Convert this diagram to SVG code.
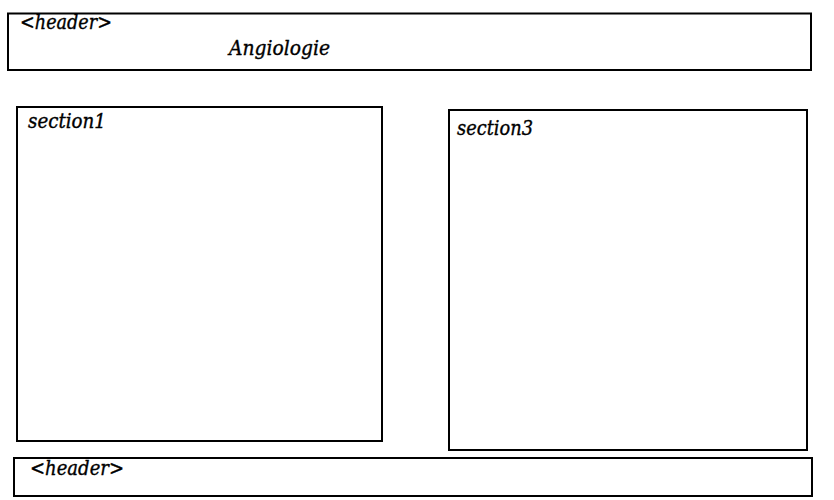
<svg xmlns="http://www.w3.org/2000/svg" width="834" height="500" viewBox="0 0 834 500">
<style>
.box{fill:#fff;stroke:#000;stroke-width:2}
.t{font-family:"DejaVu Serif","Liberation Serif",serif;font-style:italic;font-size:21px;fill:#000;stroke:#000;stroke-width:0.4}
</style>
<rect width="834" height="500" fill="#fff"/>
<g id="header">
<rect class="box" x="8" y="13.5" width="803" height="56.5"/>
<text class="t" x="20" y="29" textLength="92" lengthAdjust="spacingAndGlyphs">&lt;header&gt;</text>
<text class="t" x="229" y="55" textLength="101" lengthAdjust="spacingAndGlyphs">Angiologie</text>
</g>
<g id="section1">
<rect class="box" x="17" y="107" width="365" height="334"/>
<text class="t" x="28" y="128" textLength="78" lengthAdjust="spacingAndGlyphs">section1</text>
</g>
<g id="section3">
<rect class="box" x="449" y="110" width="358" height="340"/>
<text class="t" x="457" y="135" textLength="76" lengthAdjust="spacingAndGlyphs">section3</text>
</g>
<g id="footer">
<rect class="box" x="14" y="458" width="798" height="38"/>
<text class="t" x="30" y="475" textLength="94" lengthAdjust="spacingAndGlyphs">&lt;header&gt;</text>
</g>
<g id="connectors"></g>
</svg>
